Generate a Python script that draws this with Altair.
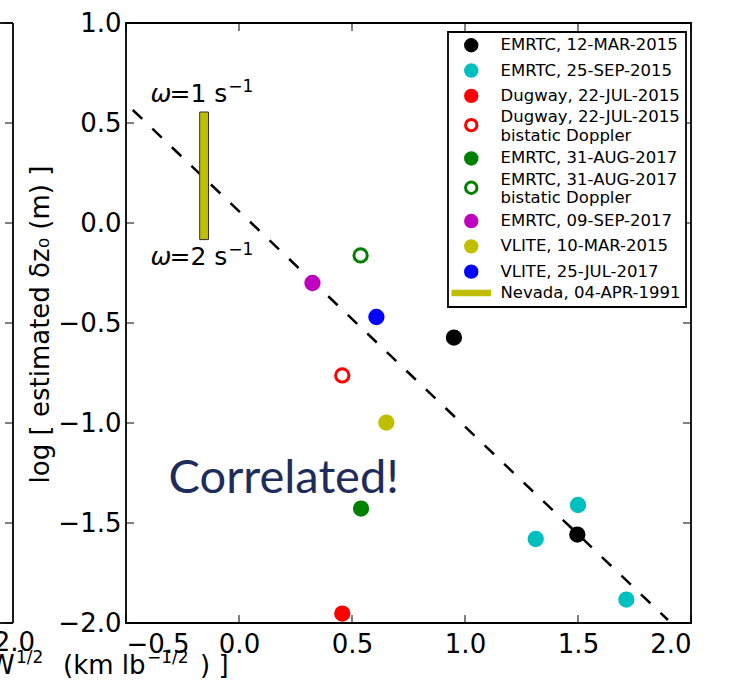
import altair as alt
import pandas as pd

FONT = "DejaVu Sans"

# ---- legend entries / styles ----
legend_labels = [
    "EMRTC, 12-MAR-2015",
    "EMRTC, 25-SEP-2015",
    "Dugway, 22-JUL-2015",
    "Dugway, 22-JUL-2015\nbistatic Doppler",
    "EMRTC, 31-AUG-2017",
    "EMRTC, 31-AUG-2017\nbistatic Doppler",
    "EMRTC, 09-SEP-2017",
    "VLITE, 10-MAR-2015",
    "VLITE, 25-JUL-2017",
    "Nevada, 04-APR-1991",
]
fill_colors = ["#000000", "#00bfbf", "#ff0000", "#ffffff", "#008000",
               "#ffffff", "#bf00bf", "#bfbf00", "#0000ff", "#bfbf00"]
stroke_colors = ["#000000", "#00bfbf", "#ff0000", "#ff0000", "#008000",
                 "#008000", "#bf00bf", "#bfbf00", "#0000ff", "#bfbf00"]
shapes = ["circle"] * 9 + ["M-3.2,-0.3H3.2V0.3H-3.2Z"]

# ---- measured points ----
point_series = [0, 0, 1, 1, 1, 2, 3, 4, 5, 6, 7, 8]
point_x = [0.951, 1.497, 1.500, 1.313, 1.714, 0.457, 0.457, 0.540, 0.538, 0.325, 0.652, 0.608]
point_y = [-0.573, -1.558, -1.410, -1.580, -1.883, -1.953, -0.762, -1.428, -0.162, -0.300, -0.998, -0.470]

# ---- dashed fit line ----
fit_x = [-0.47, 1.898]
fit_y = [0.565, -1.985]

# ---- Nevada bar ----
nevada_x = [-0.174, -0.135]
nevada_y = [-0.083, 0.555]

# ---- annotations (omega = 1 and 2 per second) ----
omega_main = ["=1 s", "=2 s"]
omega_sup = ["\u22121", "\u22121"]
omega_x = [-0.171, -0.171]
omega_y = [0.605, -0.2115]

# ---- ticks ----
x_ticks = [-0.5, 0.0, 0.5, 1.0, 1.5, 2.0]
y_ticks = [-2.0, -1.5, -1.0, -0.5, 0.0, 0.5, 1.0]

W, H = 565, 600

pts = pd.DataFrame({
    "x": point_x,
    "y": point_y,
    "series": [legend_labels[i] for i in point_series],
})
fit = pd.DataFrame({"x": fit_x, "y": fit_y})
nev = pd.DataFrame({"x": [nevada_x[0]], "x2": [nevada_x[1]],
                    "y": [nevada_y[0]], "y2": [nevada_y[1]]})
omg = pd.DataFrame({"x": omega_x, "y": omega_y, "t": omega_main,
                    "s": omega_sup, "w": ["\u03c9", "\u03c9"]})
xt = pd.DataFrame({"x": x_ticks})
yt = pd.DataFrame({"y": y_ticks})

xscale = alt.Scale(domain=[-0.5, 2.0], nice=False, zero=False)
yscale = alt.Scale(domain=[-2.0, 1.0], nice=False, zero=False)

line = alt.Chart(fit).mark_line(color="black", strokeWidth=2.5, strokeDash=[13, 14]).encode(
    x=alt.X("x:Q", scale=xscale,
            axis=alt.Axis(values=x_ticks, format=".1f", title=None)),
    y=alt.Y("y:Q", scale=yscale,
            axis=alt.Axis(values=y_ticks, format=".1f",
                          title="log [ estimated \u03b4z\u2080  (m) ]",
                          titleX=-78, titleY=301, titleAngle=270,
                          titleAlign="center", titleBaseline="alphabetic")),
)

bar = alt.Chart(nev).mark_rect(fill="#bfbf00", stroke="#333333", strokeWidth=1).encode(
    x="x:Q", x2="x2:Q", y="y:Q", y2="y2:Q"
)

leg = alt.Legend(
    title=None,
    labelExpr="split(datum.label, '\\n')",
    labelBaseline={"expr": "indexof(datum.label, '\\n') >= 0 ? 'bottom' : 'middle'"},
)
points = alt.Chart(pts).mark_point(size=177, strokeWidth=3, opacity=1).encode(
    x="x:Q",
    y="y:Q",
    fill=alt.Fill("series:N", scale=alt.Scale(domain=legend_labels, range=fill_colors), legend=leg),
    stroke=alt.Stroke("series:N", scale=alt.Scale(domain=legend_labels, range=stroke_colors), legend=leg),
    shape=alt.Shape("series:N", scale=alt.Scale(domain=legend_labels, range=shapes), legend=leg),
)

omega_base = alt.Chart(omg).encode(x="x:Q", y="y:Q")
omega_w = omega_base.mark_text(font=FONT, fontSize=25, fontStyle="italic", color="black",
                               align="right", baseline="alphabetic", dx=-29).encode(text="w:N")
omega_t = omega_base.mark_text(font=FONT, fontSize=25, color="black",
                               align="right", baseline="alphabetic", dx=27).encode(text="t:N")
omega_s = omega_base.mark_text(font=FONT, fontSize=17, color="black",
                               align="left", baseline="alphabetic", dx=28, dy=-10).encode(text="s:N")

corr = alt.Chart(pd.DataFrame({"x": [0.198], "y": [-1.35], "t": ["Correlated!"]})).mark_text(
    font="Lato", fontSize=47, color="#1e2c5b", align="center", baseline="alphabetic"
).encode(x="x:Q", y="y:Q", text="t:N")

# inward ticks (matplotlib classic style)
tick_style = dict(color="black", strokeWidth=1)
t_bottom = alt.Chart(xt).mark_rule(**tick_style).encode(x="x:Q", y=alt.value(H), y2=alt.value(H - 8))
t_top = alt.Chart(xt).mark_rule(**tick_style).encode(x="x:Q", y=alt.value(0), y2=alt.value(8))
t_left = alt.Chart(yt).mark_rule(**tick_style).encode(y="y:Q", x=alt.value(0), x2=alt.value(8))
t_right = alt.Chart(yt).mark_rule(**tick_style).encode(y="y:Q", x=alt.value(W), x2=alt.value(W - 8))

# neighbouring (cropped) panel on the left
spine_style = dict(color="black", strokeWidth=1.8)
lp_spine = alt.Chart(pd.DataFrame({"a": [0]})).mark_rule(**spine_style).encode(
    x=alt.value(-113), y=alt.value(0), y2=alt.value(H))
lp_top = alt.Chart(pd.DataFrame({"a": [0]})).mark_rule(**spine_style).encode(
    x=alt.value(-130), x2=alt.value(-113), y=alt.value(0))
lp_bot = alt.Chart(pd.DataFrame({"a": [0]})).mark_rule(**spine_style).encode(
    x=alt.value(-130), x2=alt.value(-113), y=alt.value(H))
lp_ticks = alt.Chart(yt).mark_rule(**tick_style).encode(
    y="y:Q", x=alt.value(-121), x2=alt.value(-113))

lp_text = pd.DataFrame({
    "t": ["2.0", "W", "1/2", "(km lb", "\u22121/2", ") ]"],
    "px": [-91, -137, -110, -63, 21, 74],
    "py": [620, 651, 640, 651, 640, 651],
    "fs": [26, 26, 17, 26, 17, 26],
    "al": ["right", "left", "left", "left", "left", "left"],
})
lp_labels = []
for _, r in lp_text.iterrows():
    lp_labels.append(
        alt.Chart(pd.DataFrame({"t": [r["t"]]})).mark_text(
            font=FONT, fontSize=int(r["fs"]), color="black", align=r["al"],
            baseline="middle" if r["t"] == "2.0" else "alphabetic"
        ).encode(x=alt.value(int(r["px"])), y=alt.value(int(r["py"])), text="t:N")
    )

chart = alt.layer(
    line, bar, points, omega_w, omega_t, omega_s, corr,
    t_bottom, t_top, t_left, t_right,
    lp_spine, lp_top, lp_bot, lp_ticks, *lp_labels
).resolve_scale(
    fill="shared", stroke="shared", shape="shared"
).properties(
    width=W, height=H,
    autosize=alt.AutoSizeParams(type="none"),
    padding={"left": 126, "top": 23, "right": 42, "bottom": 63},
).configure_view(
    stroke="black", strokeWidth=1.8
).configure_axis(
    domain=False, ticks=False, grid=False,
    labelFont=FONT, labelFontSize=26, labelColor="black",
    titleFont=FONT, titleFontSize=26, titleFontWeight="normal", titleColor="black",
).configure_axisX(
    labelPadding=8,
).configure_axisY(
    labelPadding=5,
).configure_legend(
    orient="none", legendX=322, legendY=9,
    fillColor="white", strokeColor="black", strokeWidth=1.8,
    padding=5, symbolOffset=10, labelOffset=21, rowPadding=1.3,
    symbolSize=130, symbolStrokeWidth=3,
    labelFont=FONT, labelFontSize=16.5, labelColor="black", labelLimit=400,
)

chart.save("out.html", embed_options={"renderer": "svg", "actions": False})
